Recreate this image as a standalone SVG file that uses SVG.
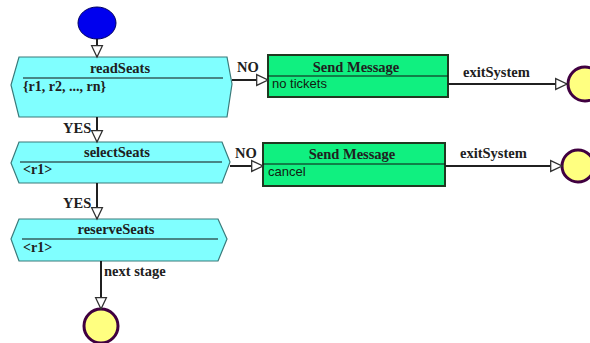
<svg xmlns="http://www.w3.org/2000/svg" width="590" height="343" viewBox="0 0 590 343">
<defs>
<marker id="arr" markerUnits="userSpaceOnUse" markerWidth="14" markerHeight="14" viewBox="-1 -1 13 12" refX="10.5" refY="5" orient="auto">
<path d="M0,0 L10.5,5 L0,10 Z" fill="#ffffff" stroke="#303030" stroke-width="1.2"/>
</marker>
</defs>
<style>
.hex{fill:#80ffff;stroke:#3a7a7a;stroke-width:1.2}
.msg{fill:#10f080;stroke:#203820;stroke-width:2}
.sep{stroke:#101010;stroke-width:1.2}
.t{font-family:"Liberation Serif",serif;font-weight:bold;font-size:14.5px;fill:#202020}
.s{font-family:"Liberation Serif",serif;font-weight:bold;font-size:14px;fill:#202020}
.c{font-family:"Liberation Sans",sans-serif;font-size:13px;fill:#102010}
.edge{stroke:#202020;stroke-width:2;fill:none}
.end{fill:#ffff80;stroke:#400040;stroke-width:3}
</style>
<g id="start"><ellipse cx="97" cy="23" rx="19" ry="16" fill="#0000ee" stroke="#000060" stroke-width="1"/></g>
<g id="readSeats">
<polygon class="hex" points="19,57 227,57 232,84 227,117 19,117 11,85"/>
<line class="sep" x1="23" y1="78" x2="223" y2="78"/>
<text class="t" x="120" y="73" text-anchor="middle">readSeats</text>
<text class="s" x="23" y="91">{r1, r2, ..., rn}</text>
</g>
<g id="msg1">
<rect class="msg" x="268" y="55" width="180" height="42"/>
<line class="sep" x1="268" y1="76" x2="448" y2="76"/>
<text class="t" x="356" y="72" text-anchor="middle">Send Message</text>
<text class="c" x="272" y="88">no tickets</text>
</g>
<g id="end1"><circle class="end" cx="585" cy="84" r="17"/></g>
<g id="selectSeats">
<polygon class="hex" points="19,142 222,142 230,162 222,183 19,183 11,163"/>
<line class="sep" x1="20" y1="162" x2="222" y2="162"/>
<text class="t" x="117" y="157" text-anchor="middle">selectSeats</text>
<text class="s" x="23" y="174">&lt;r1&gt;</text>
</g>
<g id="msg2">
<rect class="msg" x="263" y="143" width="182" height="43"/>
<line class="sep" x1="263" y1="164" x2="445" y2="164"/>
<text class="t" x="352" y="159" text-anchor="middle">Send Message</text>
<text class="c" x="268" y="176">cancel</text>
</g>
<g id="end2"><circle class="end" cx="578" cy="166" r="16"/></g>
<g id="reserveSeats">
<polygon class="hex" points="19,219 218,219 227,239 218,261 19,261 11,239"/>
<line class="sep" x1="22" y1="239" x2="218" y2="239"/>
<text class="t" x="116" y="234" text-anchor="middle">reserveSeats</text>
<text class="s" x="23" y="252">&lt;r1&gt;</text>
</g>
<g id="end3"><circle class="end" cx="101" cy="326" r="17"/></g>
<g id="connectors">
<line class="edge" x1="97" y1="39" x2="97" y2="57" marker-end="url(#arr)"/>
<line class="edge" x1="232" y1="80" x2="268" y2="80" marker-end="url(#arr)"/>
<text class="t" x="237" y="72">NO</text>
<line class="edge" x1="448" y1="84" x2="567" y2="84" marker-end="url(#arr)"/>
<text class="t" x="463" y="77">exitSystem</text>
<line class="edge" x1="97" y1="117" x2="97" y2="142" marker-end="url(#arr)"/>
<text class="t" x="63" y="133">YES</text>
<line class="edge" x1="230" y1="166" x2="263" y2="166" marker-end="url(#arr)"/>
<text class="t" x="235" y="158">NO</text>
<line class="edge" x1="445" y1="166" x2="562" y2="166" marker-end="url(#arr)"/>
<text class="t" x="460" y="158">exitSystem</text>
<line class="edge" x1="97" y1="183" x2="97" y2="219" marker-end="url(#arr)"/>
<text class="t" x="63" y="208">YES</text>
<line class="edge" x1="101" y1="261" x2="101" y2="309" marker-end="url(#arr)"/>
<text class="t" x="104" y="276">next stage</text>
</g>
</svg>
